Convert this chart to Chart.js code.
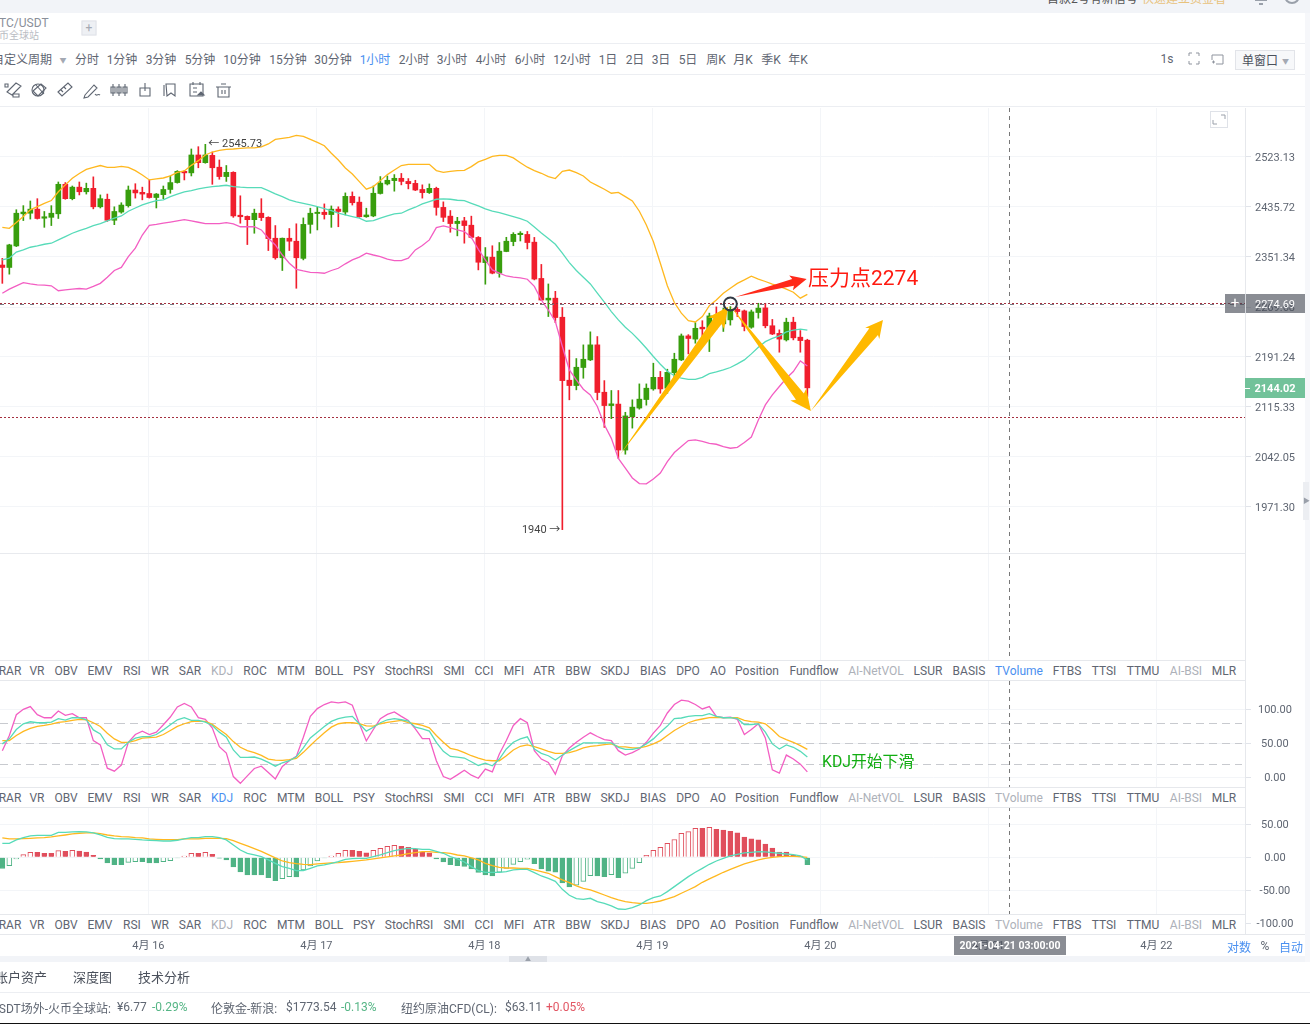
<!DOCTYPE html>
<html>
<head>
<meta charset="utf-8">
<title>BTC/USDT</title>
<script src="https://cdn.jsdelivr.net/npm/chart.js@4/dist/chart.umd.min.js"></script>
<style>
  html, body { margin: 0; padding: 0; background: #f6f7fa; overflow: hidden; }
  body { width: 1310px; height: 1024px; position: relative; font-family: Roboto, "Noto Sans CJK SC", sans-serif; color: #5f6672; }
  canvas { position: absolute; left: 0; }
  .abs { position: absolute; white-space: nowrap; }
  .c { transform: translate(-50%, -50%); }
  .l { transform: translateY(-50%); }
  .hline { position: absolute; height: 1px; background: #eceef2; }
  .tabrow { position: absolute; left: 0; width: 1245px; height: 19px; background: #fff; border-top: 1px solid #e6e8ec; border-bottom: 1px solid #e6e8ec; font-size: 12px; }
  .tabrow span { position: absolute; top: 10px; transform: translate(-50%, -50%); white-space: nowrap; }
</style>
</head>
<body>
<div class="abs" style="left:0;top:13px;width:1305px;height:943px;background:#fff"></div>
<div class="abs" style="left:0;top:0;width:1310px;height:13px;background:#f2f4f8;overflow:hidden">
  <span class="abs" style="left:1047px;top:-11px;font-size:12px;color:#555">首款2号有新信号</span>
  <span class="abs" style="left:1142px;top:-11px;font-size:12px;color:#e8c27c">快速建立资金看</span>
  <svg class="abs" style="left:1250px;top:-8px" width="60" height="16" fill="none" stroke="#9aa0aa" stroke-width="2"><path d="M5 8h12M8 8c0-6 6-6 6 0M9 12h4"/><circle cx="42" cy="4" r="7"/></svg>
</div>
<span class="abs l" style="left:-1px;top:23px;font-size:12px;color:#8a8f99">TC/USDT</span>
<span class="abs l" style="left:-1px;top:34px;font-size:10px;color:#b9bcc3">币全球站</span>
<span class="abs c" style="left:89px;top:28px;width:13px;height:13px;background:#eef0f4;border:1px solid #dfe2e8;color:#a4a9b3;font-size:12px;line-height:13px;text-align:center">+</span>
<div class="hline" style="left:0;top:43px;width:1305px"></div>
<div class="hline" style="left:0;top:74px;width:1305px"></div>
<div class="hline" style="left:0;top:106px;width:1305px"></div>
<div id="periods"></div>
<svg class="abs" style="left:0;top:80px" width="240" height="20" fill="none" stroke="#5f6672" stroke-width="1.1">
  <path d="M5 4h3v3H5zM16 3l5 3-9 9-5-3zM13 14h6v3h-6z"/>
  <path d="M33 11l8-7 5 4-8 8zM36 5l8 9"/><circle cx="38" cy="10" r="6"/>
  <path d="M58 12l10-9 4 4-10 9zM61 10l2 2M64 7l2 2"/>
  <path d="M85 15l9-10 3 3-9 9-4 1zM95 14c2 3 3-1 5 1"/>
  <path d="M113 4v12M119 4v12M125 4v12M111 7h4v6h-4zM117 7h4v6h-4zM123 7h4v6h-4z"/>
  <path d="M140 8h10v8h-10zM145 3v8"/>
  <path d="M166 4h9v12l-4-3-4 3zM164 5v11"/>
  <path d="M190 4h13v12h-13zM193 8h4M193 12h4M193 2v3M200 2v3"/><path d="M198 15l3-3 3 3z" fill="#5f6672"/>
  <path d="M218 7h11v10h-11zM216 7h15M221 4h5M222 10v4M225 10v4"/>
</svg>
<span class="abs c" style="left:1167px;top:59px;font-size:12px">1s</span>
<svg class="abs" style="left:1186px;top:52px" width="40" height="14" fill="none" stroke="#8f949e"><path d="M3 4V1h3M10 1h3v3M13 9v3h-3M6 12H3V9"/><path d="M26 3h11v9h-7M26 3v5M26 10h3M27.500 8.500v3"/></svg>
<div class="abs" style="left:1235px;top:50px;width:58px;height:18px;background:#f7f8fa;border:1px solid #e2e4e9;font-size:12px;line-height:21px;color:#4b515c;text-indent:6px">单窗口<span style="font-size:7px;color:#a4a9b3;margin-left:4px;vertical-align:1px">▼</span></div>
<canvas id="mainChart" width="1305" height="552" style="top:108px"></canvas>
<div class="hline" style="left:0;top:553px;width:1245px;background:#e8eaee"></div>
<canvas id="kdjChart" width="1305" height="107" style="top:681px"></canvas>
<canvas id="macdChart" width="1305" height="149" style="top:807px"></canvas>
<div id="tab1" class="tabrow" style="top:660px"></div>
<div id="tab2" class="tabrow" style="top:787px"></div>
<div id="tab3" class="tabrow" style="top:914px"></div>
<div class="abs" style="left:1245px;top:108px;width:1px;height:826px;background:#e6e8ec"></div>
<div class="abs" style="left:0;top:934px;width:1305px;height:1px;background:#e6e8ec"></div>
<svg class="abs" style="left:1210px;top:111px" width="18" height="17" fill="none" stroke="#9aa0aa"><rect x=".5" y=".5" width="17" height="16" stroke="#dfe2e8"/><path d="M11 4h4v4M3 9v4h4"/></svg>
<div class="abs" style="left:1225px;top:294px;width:80px;height:19px;background:rgba(70,75,85,.63)">
  <span class="abs c" style="left:10px;top:9px;color:#fff;font-size:15px">+</span>
  <span class="abs" style="left:20px;top:0;width:1px;height:19px;background:#d5d7dc"></span>
  <span class="abs c" style="left:50px;top:10px;color:#fff;font-size:11px">2274.69</span>
</div>
<div class="abs" style="left:1245px;top:378px;width:60px;height:20px;background:#72c29a">
  <span class="abs" style="left:0;top:10px;width:5px;height:1px;background:#fff"></span>
  <span class="abs c" style="left:30px;top:10px;color:#fff;font-size:11px;font-weight:700">2144.02</span>
</div>
<div class="abs" style="left:1303px;top:482px;width:6px;height:38px;background:#eceef2;color:#9aa0aa;font-size:7px;line-height:38px">▶</div>
<span class="abs l" style="left:808px;top:276px;font-size:21px;color:#ff1a10">压力点2274</span>
<span class="abs l" style="left:822px;top:760px;font-size:15.800px;color:#12ad12">KDJ开始下滑</span>
<div class="abs" style="left:954px;top:936px;width:112px;height:19px;background:rgba(70,75,85,.63);color:#fff;font-size:10.500px;font-weight:700;line-height:19px;text-align:center">2021-04-21 03:00:00</div>
<span class="abs c" style="left:1239px;top:946px;font-size:12px;color:#4a90f0">对数</span>
<span class="abs c" style="left:1265px;top:946px;font-size:12px">%</span>
<span class="abs c" style="left:1291px;top:946px;font-size:12px;color:#4a90f0">自动</span>
<div class="abs" style="left:0;top:956px;width:1305px;height:6px;background:#f2f4f8"></div>
<div class="abs" style="left:509px;top:956px;width:38px;height:6px;background:#dfe2e8;color:#9aa0aa;font-size:6px;line-height:6px;text-align:center">▲</div>
<div class="abs" style="left:0;top:962px;width:1310px;height:61px;background:#fff"></div>
<span class="abs l" style="left:-5px;top:976px;font-size:13px;color:#4b515c">账户资产</span>
<span class="abs l" style="left:73px;top:976px;font-size:13px;color:#4b515c">深度图</span>
<span class="abs l" style="left:138px;top:976px;font-size:13px;color:#4b515c">技术分析</span>
<div class="hline" style="left:0;top:992px;width:1310px"></div>
<span class="abs l" style="left:-9px;top:1007px;font-size:12px">USDT场外-火币全球站:</span>
<span class="abs l" style="left:117px;top:1007px;font-size:12px">¥6.77</span>
<span class="abs l" style="left:152px;top:1007px;font-size:12px;color:#55b585">-0.29%</span>
<span class="abs l" style="left:211px;top:1007px;font-size:12px">伦敦金-新浪:</span>
<span class="abs l" style="left:286px;top:1007px;font-size:12px">$1773.54</span>
<span class="abs l" style="left:341px;top:1007px;font-size:12px;color:#55b585">-0.13%</span>
<span class="abs l" style="left:401px;top:1007px;font-size:12px">纽约原油CFD(CL):</span>
<span class="abs l" style="left:505px;top:1007px;font-size:12px">$63.11</span>
<span class="abs l" style="left:546px;top:1007px;font-size:12px;color:#e25563">+0.05%</span>
<div class="abs" style="left:0;top:1023px;width:1310px;height:1px;background:#111"></div>

<script>
// candles, one per hour
const candleOpen = [2338,2334,2369.7,2424,2425,2432,2416.5,2418,2424,2475,
  2450,2470,2462,2468,2436,2449,2413,2427,2438,2465,
  2461,2459,2452,2457,2466,2478,2497.7,2495,2526.7,2513,
  2526,2505,2488.5,2496,2421.6,2419.6,2414,2425,2418,2382.6,
  2350,2382.6,2377.6,2349,2406,2424.5,2426.7,2422.7,2432,2427,
  2454,2444,2419,2420.4,2459,2475.6,2481.4,2485.5,2480,2476.6,
  2466,2460.5,2468,2435,2420,2407.4,2412,2404.6,2384,2342,
  2351,2324.6,2360.4,2377,2388.6,2389,2376,2316,2281,2284,
  2253.5,2155.6,2147.5,2175,2186.7,2210,2137.4,2117.4,2119.6,2052,
  2100.6,2113.7,2126.4,2142.4,2160,2143.5,2167,2186.7,2224,2219,
  2237.7,2235.5,2256,2243,2249.3,2266,2263.6,2237.7,2261,2268.4,
  2240,2228,2217.8,2245.6,2222,2217.3];
const candleClose = [2334,2371.4,2425,2427,2432,2416,2419,2425,2475,2450,
  2470,2462,2468,2436,2450,2413,2428,2439,2465,2460,
  2458,2452,2458,2466,2478,2497.7,2495,2526.7,2513,2526.7,
  2504,2488.5,2496,2420.4,2419,2414,2425,2417.5,2382,2350,
  2382.6,2377.6,2350,2406,2425,2426.7,2422.7,2432,2428,2454,
  2443,2419,2422,2459.4,2477,2482,2485.5,2480,2476,2465,
  2460.5,2468,2435,2418,2407.4,2411.3,2404,2384,2342.6,2351.5,
  2324.6,2361,2377.6,2389.2,2391,2375.4,2315,2281,2284,2253,
  2155,2147.5,2175.4,2187.7,2210,2137,2117.4,2120,2052,2102,
  2115,2127,2143.5,2160,2142.4,2167.6,2187.7,2224,2220,2236,
  2235,2255.6,2248,2260,2266,2262.5,2238.8,2262,2268,2240,
  2227,2219,2245.6,2221,2216.7,2144.02];
const candleHigh = [2349,2372.5,2431,2438,2446,2450,2428,2438,2479,2478,
  2472,2479,2477,2488,2456.5,2458,2436,2443,2472,2476,
  2470,2482.6,2459,2472,2489.6,2499,2499,2537.4,2541.5,2545.73,
  2532,2517.8,2508,2497,2455,2420.4,2432,2450,2419,2404,
  2383,2399,2407,2417,2433.6,2435.4,2441,2437.5,2436,2460,
  2461.7,2453,2433.6,2472,2488.5,2489.6,2492,2494,2485,2482,
  2474,2475.6,2470,2444.5,2429.6,2418,2418,2420,2385.4,2367,
  2370,2375.4,2384.2,2392,2393.7,2394,2384,2339,2307,2295,
  2269,2202,2188.8,2210,2230.4,2223,2155,2140,2140,2107.4,
  2126,2150,2150,2181.6,2169,2172.4,2197,2227,2226,2245,
  2248,2260,2270,2268,2270.5,2269,2265,2265,2275.8,2275.8,
  2250,2233.5,2252,2253.5,2232.4,2218.8];
const candleLow = [2308,2323,2368.6,2412.5,2415,2415,2401,2404,2416,2449,
  2448,2456.5,2458,2432.5,2434,2411,2405.5,2425,2435.5,2451,
  2448,2451,2434,2450,2459.4,2477,2482.6,2489.6,2504,2512,
  2475,2483.8,2480,2418,2408,2372,2391,2412.5,2362,2347.6,
  2329,2362,2300,2346.5,2391,2396.6,2415,2401,2402,2422,
  2439,2418,2418,2419,2458,2473.8,2463,2474,2467,2464,
  2451,2459,2421.6,2410.8,2392.7,2386.6,2374.3,2383,2330,2306.6,
  2323.5,2318,2360,2370,2378,2364.7,2313.6,2280,2254.6,2245,
  1940,2126,2141,2158.6,2185.6,2126,2085,2098,2040,2046,
  2084,2112,2118,2140.4,2135.9,2135.9,2158.6,2185.6,2196,2212.6,
  2212.6,2199.6,2234.5,2231,2241,2254.6,2231.9,2236,2252,2236.7,
  2226,2198.6,2216,2217.8,2198.6,2131];

// bollinger bands
const bollUpper = [2401,2399.4,2409,2419.3,2430.7,2436.4,2442,2446.8,2462,2474,
  2485.5,2494,2501,2504.8,2508,2504.8,2504.8,2506.6,2504.8,2499,
  2491.3,2482.6,2484.4,2486,2489.6,2496,2498.4,2508.3,2516.6,2526.7,
  2532,2535,2536.8,2537.4,2538.6,2539.2,2539.2,2541,2546.4,2554.7,
  2556.5,2558.3,2562,2560,2554.7,2549.3,2543.3,2529.7,2517.8,2503.6,
  2493,2479.7,2466.4,2471,2481.4,2492,2500,2508,2510,2510,
  2510,2510,2499,2496,2497.8,2499,2499.5,2506,2514.3,2519,
  2524.3,2526,2526,2521.4,2513,2505,2499,2494.3,2488.4,2485,
  2497.8,2500,2495.4,2489.6,2479,2472.7,2466.4,2459.4,2461,2453.6,
  2446,2428.4,2405,2377,2341,2304,2277,2260,2248,2246,
  2254.6,2272,2281,2292,2300,2308,2313.6,2319.7,2315,2311,
  2306.6,2303,2298.5,2293.6,2284,2290];
const bollMid = [2346.5,2349.3,2359.4,2363.1,2367.5,2369.7,2372.5,2374.2,2379.8,2385.4,
  2391,2395.5,2399.4,2404,2407.4,2412,2416.5,2420.4,2428.4,2434,
  2439.3,2443.3,2446.8,2447.9,2453.7,2457.7,2461.7,2464,2467,2469.3,
  2471,2472,2473.3,2471,2470,2469.3,2469.3,2469.3,2464,2458.3,
  2453.7,2447.9,2444.4,2442,2439.3,2436.4,2433,2429.6,2425,2422,
  2419.3,2416.5,2411.3,2412.4,2416.5,2420.4,2424,2425,2430.7,2435.3,
  2441,2445,2449,2449.6,2449,2447.3,2446.7,2442,2437.6,2432.4,
  2428.4,2426,2422.7,2419.3,2415.9,2411.3,2401.7,2391.6,2382,2372.5,
  2357.7,2342,2329,2318,2307,2292,2277.5,2262.5,2249.3,2237.7,
  2228,2216.8,2204.8,2192,2180,2169.3,2162.4,2158.6,2157,2157,
  2160,2165.7,2168.2,2171.3,2175,2180.5,2186.7,2196,2206.4,2215,
  2220,2224,2230.4,2233,2234.6,2233];
const bollLower = [2292,2298.5,2304,2309,2307,2305.5,2305,2304,2296,2297.4,
  2298.5,2299.6,2298.5,2303,2308,2318,2329,2334,2352,2366,
  2388,2404.5,2406,2408,2410,2412,2414,2412,2409.6,2407.4,
  2407.4,2407.4,2409,2406.8,2402,2402,2402,2396.6,2382.6,2371.4,
  2354.6,2341,2331,2328.3,2326,2325.6,2324.5,2329,2332.7,2340,
  2346.5,2351,2357.8,2354.6,2352,2347.6,2345.4,2345.4,2349.3,2363.1,
  2370.3,2379.8,2400.5,2403.4,2400.5,2396.6,2393.8,2384,2364,2346.5,
  2330,2324.6,2320,2318,2317,2314.7,2303,2281,2265,2246.7,
  2207.4,2171.3,2156,2142,2133.4,2116,2088.8,2069,2040,2026,
  2012,2004,2003.6,2010.6,2019,2035.4,2048.4,2057,2065.7,2066.7,
  2064.7,2061.8,2060.4,2057,2054.6,2056,2063,2071,2096,2118.4,
  2133.4,2146,2158.6,2168.8,2185,2177.3];

// KDJ pane
const kdjK = [49.3,56.7,70.6,79,82,80.6,80.6,81.6,86.6,84.6,
  88,88,85,70,64,48,41.8,41.8,51.7,57.7,
  60.2,60.2,63.2,70,77.6,85,88,84,84,81.6,
  76.6,66.7,59.2,40.3,29.4,29.4,29.9,26.9,21.9,16.4,
  21.4,24.4,30.3,43.3,58.2,66.7,75,82.6,86.6,89,
  90,79,68.2,74,80.6,85,86.6,85,83,74,
  71.6,68.2,51.7,38.3,30.8,29.9,28.4,22.9,17.4,20.9,
  16.9,26.9,41.8,51.7,56.7,59.7,41.8,35.3,31.8,25.4,
  32.8,39.3,45.3,50.7,50.7,50.7,50.7,50.7,44.3,41.3,
  41.3,43.3,49.3,56.7,66.7,75.6,86.6,87.6,90,91,
  91,94,90,88,88,86.6,78,78,79,66.7,
  49.3,41.8,47.8,44.3,38.3,29.9];
const kdjD = [54.2,54.2,61.7,67.7,72.1,75.1,76.6,78.6,81.1,82.1,
  84,85.6,85,80.6,75.1,65.2,56.7,51.7,51.7,54.2,
  57.7,58.7,59.2,63.2,69.2,75.1,79.1,82.1,83.1,82.6,
  78.1,70.6,63.2,52.7,44.3,39.3,36.3,32.3,26.9,25.4,
  24.9,25.9,27.9,36.8,46.8,56.7,65.7,74.1,79.1,80.6,
  80.6,79.1,76.1,75.6,79.1,81.1,82.6,84.1,80.6,79.1,
  76.6,73.1,61.7,51.7,42.8,40.3,36.3,31.8,28.4,25.4,
  24.4,24.4,31.8,40.3,45.8,47.8,45.3,41.8,38.3,35.3,
  35.3,36.3,39.3,43.3,45.8,46.8,48.3,49.3,45.3,44.8,
  43.3,43.3,45.8,49.3,54.2,61.7,69.2,75.1,80.6,84.1,
  86.1,88.1,88.6,88.1,88.1,88.1,84.1,82.1,81.6,79.1,
  70.1,60.2,55.7,51.7,46.8,41.3];
const kdjJ = [39.3,61.7,92.5,100.5,104.5,92.5,88,88,98,91.5,
  94,88,88,54.2,47.8,13.4,9,18,51.7,63.2,
  68.2,63.2,66.7,77.6,89,104,109,104,88,85.6,
  72.6,45.3,35.8,1,-9,2,13,16.4,7,-2.5,
  16,24.4,30.8,59.2,90,101.5,107.5,111.4,110,111.4,
  106.5,79,53.7,70.6,86.6,93,96.5,90,84,71.6,
  57.2,57.2,24.4,1,-3,3.5,10.4,3,-1.5,12,
  8,34.3,54.2,76.6,86.6,80.6,39.3,26.9,21.9,4.5,
  31.8,43.3,51.7,59.2,65.7,60.2,55.7,54.2,39.3,32.8,
  36.3,41.8,51.7,65.2,76.6,95,107.5,114,112.4,107.5,
  101,104.5,90,88,89,85.6,63.2,70.6,79,58.2,
  11,6,32.8,26.9,19.4,8];

// MACD pane
const macdHist = [-17,-12.6,-2.5,4,7.5,7.5,6,6,10,9,
  10.6,9.6,8,3,-2.5,-8.6,-11,-11,-7.6,-6.6,
  -6.6,-8.6,-8.6,-6.6,-5,-1,2,6,6,7.6,
  4.5,-1.5,-4,-14.6,-22,-26.8,-26.8,-26.8,-30.8,-35.4,
  -32.3,-29.3,-29.8,-19.2,-13,-5.6,-1,2,6,10.6,
  10.6,9,6.6,10.6,13.6,16.7,18,16.7,15,12.6,
  7.6,6.6,-2.5,-7,-11,-12.6,-14,-17.7,-23,-26.8,
  -28.3,-22.7,-17,-10.6,-6.6,-3,-9.6,-17.7,-21,-22.7,
  -39,-45,-42.4,-36.4,-27.8,-28.3,-29.3,-26.3,-30.8,-24.2,
  -16.7,-8,3,10.6,15,21,27,36.4,39,44,
  44,45.5,42.4,41.4,39.4,36.9,30.8,27.8,26.3,20.2,
  14,8,8,3,2,-11];
const macdDif = [21.2,21.2,26.3,29.8,32.3,33.3,33.3,33.3,37.9,37.9,
  38.4,38.9,38.4,36.9,33.8,30.3,28.3,27.8,27.8,27.3,
  26.3,25.8,25.3,24.7,24.7,25.8,27.8,29.8,29.8,31.3,
  31.3,29.8,26.3,18.7,11.1,6.1,3.5,1,-4,-9.1,
  -14.1,-16.7,-20.2,-20.2,-16.7,-13.1,-11.6,-9.1,-6.6,-3,
  -2,-1.5,-1.5,1,3.5,7.1,10.1,12.1,13.6,13.1,
  12.1,12.1,9.1,6.1,1,-2.5,-7.1,-14.1,-20.2,-22.7,
  -22.7,-22.7,-21.7,-19.2,-18.2,-18.2,-23.2,-28.3,-31.8,-36.4,
  -48.5,-57.6,-62.6,-63.6,-62.1,-67.2,-69.7,-73.7,-78.3,-78.8,
  -76.3,-72.2,-65.7,-61.1,-58.6,-52,-44.4,-36.9,-29.3,-22.7,
  -16.7,-10.6,-5.6,-1.5,2,4.5,6.6,7.6,8.6,8.1,
  7.1,6.1,5,4,2,-4];
const macdDea = [29.3,27.8,27.8,28.3,28.8,29.3,29.8,30.8,32.3,33.8,
  35.4,36.4,36.9,36.9,35.9,33.8,32.3,31.3,30.8,29.8,
  29.3,27.8,27.3,26.8,26.8,26.8,27.8,27.8,27.8,28.8,
  28.8,28.8,28.3,25.3,21.2,17.2,13.1,9.1,4,-1,
  -5.6,-8.1,-9.6,-10.6,-11.1,-10.1,-9.1,-8.6,-8.1,-7.1,
  -6.1,-5.1,-4,-2.5,-1,0.5,2,3.5,5.6,7.1,
  8.6,8.6,7.6,7.1,6.1,3.5,2,-1,-4,-9.1,
  -12.6,-15.2,-16.2,-16.2,-16.7,-16.7,-19.2,-21.7,-24.2,-29.3,
  -34.3,-38.4,-43.4,-47,-49.5,-53,-57.1,-61.1,-64.6,-67.2,
  -68.7,-69.7,-69.7,-68.2,-66.2,-63.1,-59.6,-54.5,-49.5,-44.4,
  -37.9,-32.8,-27.8,-22.7,-18.2,-14.1,-10.1,-7.1,-4,-1.5,
  0,1,1.5,1.5,1,0];

// axes
const priceTicks = [1971.30, 2042.05, 2115.33, 2191.24, 2269.68, 2351.34, 2435.72, 2523.13];
const kdjTicks = [0, 50, 100];
const kdjBands = [20, 50, 80];
const macdTicks = [-100, -50, 0, 50];
const dayTicks = [20.86, 44.86, 68.86, 92.86, 116.86, 140.86, 164.86];
const dayLabels = ['4月 16', '4月 17', '4月 18', '4月 19', '4月 20', '4月 21', '4月 22'];
const levelPrices = [2274.69, 2099];
const crossIndex = 143.88;

// tabs and period bar
const indicatorTabs = ['RAR','VR','OBV','EMV','RSI','WR','SAR','KDJ','ROC','MTM','BOLL','PSY','StochRSI','SMI','CCI','MFI','ATR','BBW','SKDJ','BIAS','DPO','AO','Position','Fundflow','AI-NetVOL','LSUR','BASIS','TVolume','FTBS','TTSI','TTMU','AI-BSI','MLR'];
const indicatorTabX = [10,37,66,100,132,160,190,222,255,291,329,364,409,454,484,514,544,578,615,653,688,718,757,814,876,928,969,1019,1067,1104,1143,1186,1224];
const periodLabels = ['分时','1分钟','3分钟','5分钟','10分钟','15分钟','30分钟','1小时','2小时','3小时','4小时','6小时','12小时','1日','2日','3日','5日','周K','月K','季K','年K'];
const periodX = [87,122,161,200,242,288,333,375,414,452,491,530,572,608,635,661,688,716,743,771,798];

// annotations on the price pane, in candle index and price
const drawnArrows = [
  { from: [88.2, 2045], to: [103.7, 2270.4], color: '#ffb900', neck: 5, wing: 10, head: 18 },
  { from: [104, 2272], to: [115.5, 2109.4], color: '#ffb900', neck: 5, wing: 10, head: 18 },
  { from: [115.5, 2109.4], to: [125.8, 2249.3], color: '#ffb900', neck: 5.500, wing: 9, head: 15 },
  { from: [104.7, 2286], to: [114.9, 2315.2], color: '#ff2a1a', neck: 3.5, wing: 7.5, head: 14 }
];
const markerCircle = [104, 2274.69];

const RED = '#f01e2d', GREEN = '#389e0d', ORANGE = '#ffb81f', TEAL = '#57dbb9', PINK = '#f35ec3';
const GRID = '#f3f5f8';
const FONT = 'Roboto, "Noto Sans CJK SC", sans-serif';

const pts = (arr) => arr.map((y, x) => ({ x, y }));
const candleColors = candleOpen.map((o, i) => candleClose[i] < o ? RED : GREEN);

function lineSet(values, color) {
  return { type: 'line', data: pts(values), borderColor: color, borderWidth: 1.3, pointRadius: 0, order: 0 };
}

function xAxis(showLabels) {
  return {
    type: 'linear', min: -0.333, max: 177.52, offset: false,
    grid: { color: GRID, offset: false, drawTicks: false },
    border: { display: false },
    afterBuildTicks: (s) => { s.ticks = dayTicks.map((value) => ({ value })); },
    afterFit: (s) => { s.height = showLabels ? 22 : 0; s.paddingLeft = 0; s.paddingRight = 0; },
    ticks: showLabels
      ? { autoSkip: false, maxRotation: 0, padding: 6, color: '#5f6672', font: { size: 11, family: FONT },
          callback: (v) => dayLabels[dayTicks.indexOf(v)] }
      : { display: false }
  };
}

function yAxis(opts, ticks, padding) {
  return Object.assign({
    position: 'right',
    grid: { color: GRID, tickColor: '#e1e4ea', tickLength: 6 },
    border: { display: false },
    afterBuildTicks: (s) => { s.ticks = ticks.map((value) => ({ value })); },
    // the panes butt against each other, no room for half labels
    afterFit: (s) => { s.width = 60; s.paddingTop = 0; s.paddingBottom = 0; },
    ticks: { autoSkip: false, crossAlign: 'center', padding, labelOffset: 1, color: '#5f6672', font: { size: 11, family: FONT },
      callback: (v) => v.toFixed(2) }
  }, opts);
}

const baseOptions = {
  responsive: false, animation: false, events: [],
  layout: { padding: 0 },
  plugins: { legend: { display: false }, tooltip: { enabled: false } }
};

function crossLine(chart) {
  const { ctx, chartArea, scales } = chart;
  const x = scales.x.getPixelForValue(crossIndex);
  ctx.save();
  ctx.strokeStyle = '#777';
  ctx.setLineDash([4, 4]);
  ctx.beginPath();
  ctx.moveTo(x, chartArea.top);
  ctx.lineTo(x, chartArea.bottom);
  ctx.stroke();
  ctx.restore();
}

function drawArrow(ctx, x0, y0, x1, y1, a) {
  const len = Math.hypot(x1 - x0, y1 - y0);
  const ux = (x1 - x0) / len, uy = (y1 - y0) / len;
  const nx = -uy, ny = ux;
  const bx = x1 - ux * a.head, by = y1 - uy * a.head;
  const wx = x1 - ux * a.head * 1.15, wy = y1 - uy * a.head * 1.15;
  ctx.fillStyle = a.color;
  ctx.beginPath();
  ctx.moveTo(x0, y0);
  ctx.lineTo(bx + nx * a.neck, by + ny * a.neck);
  ctx.lineTo(wx + nx * a.wing, wy + ny * a.wing);
  ctx.lineTo(x1, y1);
  ctx.lineTo(wx - nx * a.wing, wy - ny * a.wing);
  ctx.lineTo(bx - nx * a.neck, by - ny * a.neck);
  ctx.closePath();
  ctx.fill();
}

function dashed(ctx, chartArea, py, color, dash) {
  ctx.beginPath();
  ctx.moveTo(chartArea.left, py);
  ctx.lineTo(chartArea.right, py);
  ctx.strokeStyle = color;
  ctx.setLineDash(dash);
  ctx.stroke();
}

const mainOverlay = {
  id: 'mainOverlay',
  afterDatasetsDraw(chart) {
    const { ctx, chartArea, scales: { x, y } } = chart;
    crossLine(chart);
    ctx.save();
    levelPrices.forEach((p, n) => {
      const py = Math.round(y.getPixelForValue(p)) - 0.5;
      if (n === 0) dashed(ctx, chartArea, py + 1, '#777a84', [4, 6]);
      dashed(ctx, chartArea, py, '#a5303f', [2, 2]);
    });
    ctx.setLineDash([]);
    drawnArrows.forEach((a) => {
      drawArrow(ctx, x.getPixelForValue(a.from[0]), y.getPixelForValue(a.from[1]),
        x.getPixelForValue(a.to[0]), y.getPixelForValue(a.to[1]), a);
    });
    ctx.strokeStyle = '#333a45';
    ctx.lineWidth = 2;
    ctx.beginPath();
    ctx.arc(x.getPixelForValue(markerCircle[0]), y.getPixelForValue(markerCircle[1]), 6.5, 0, Math.PI * 2);
    ctx.stroke();

    // high and low of the visible range
    const hi = candleHigh.indexOf(Math.max(...candleHigh));
    const lo = candleLow.indexOf(Math.min(...candleLow));
    ctx.fillStyle = '#444';
    ctx.font = '11px ' + FONT;
    ctx.textBaseline = 'middle';
    ctx.textAlign = 'left';
    ctx.fillText('← ' + candleHigh[hi].toFixed(2), x.getPixelForValue(hi) + 3, y.getPixelForValue(candleHigh[hi]));
    ctx.textAlign = 'right';
    ctx.fillText(candleLow[lo] + ' →', x.getPixelForValue(lo) - 2, y.getPixelForValue(candleLow[lo]) + 1);
    ctx.restore();
  }
};

new Chart(document.getElementById('mainChart'), {
  type: 'bar',
  data: {
    datasets: [
      lineSet(bollUpper, ORANGE),
      lineSet(bollMid, TEAL),
      lineSet(bollLower, PINK),
      {
        data: candleOpen.map((o, i) => ({ x: i, y: [o, candleClose[i]] })),
        backgroundColor: candleColors, barThickness: 5, minBarLength: 1, grouped: false, order: 1
      },
      {
        data: candleLow.map((l, i) => ({ x: i, y: [l, candleHigh[i]] })),
        backgroundColor: candleColors, barThickness: 1, grouped: false, order: 2
      }
    ]
  },
  options: Object.assign({}, baseOptions, {
    scales: {
      x: xAxis(false),
      y: yAxis({ type: 'logarithmic', beginAtZero: false, min: 1769.6, max: 2611.8 }, priceTicks, 4)
    }
  }),
  plugins: [mainOverlay]
});

new Chart(document.getElementById('kdjChart'), {
  type: 'line',
  data: { datasets: [lineSet(kdjK, TEAL), lineSet(kdjD, ORANGE), lineSet(kdjJ, PINK)] },
  options: Object.assign({}, baseOptions, {
    scales: { x: xAxis(false), y: yAxis({ type: 'linear', min: -15.9, max: 142.3 }, kdjTicks, 7) }
  }),
  plugins: [{
    id: 'kdjBands',
    beforeDatasetsDraw(chart) {
      const { ctx, chartArea, scales: { y } } = chart;
      ctx.save();
      ctx.strokeStyle = '#c8cacf';
      ctx.setLineDash([8, 5]);
      kdjBands.forEach((v) => {
        const py = Math.round(y.getPixelForValue(v)) + 0.5;
        ctx.beginPath();
        ctx.moveTo(chartArea.left, py);
        ctx.lineTo(chartArea.right - 3, py);
        ctx.stroke();
      });
      ctx.restore();
    },
    afterDatasetsDraw: crossLine
  }]
});

new Chart(document.getElementById('macdChart'), {
  type: 'bar',
  data: {
    datasets: [
      lineSet(macdDif, TEAL),
      lineSet(macdDea, ORANGE),
      {
        data: pts(macdHist),
        // bars that rise from the previous hour are hollow
        backgroundColor: macdHist.map((v, i) => {
          if (i > 0 && v > macdHist[i - 1]) return '#fff';
          return v >= 0 ? '#e04e5c' : '#4fb385';
        }),
        borderColor: macdHist.map((v) => v >= 0 ? '#e04e5c' : '#4fb385'),
        borderWidth: 1, barThickness: 5, order: 1
      }
    ]
  },
  options: Object.assign({}, baseOptions, {
    scales: { x: xAxis(true), y: yAxis({ type: 'linear', min: -116.2, max: 76.2 }, macdTicks, 5.5) }
  }),
  plugins: [{ id: 'macdCross', afterDatasetsDraw: crossLine }]
});

// chrome built from the label lists
function tabRow(id, blue, grey) {
  const row = document.getElementById(id);
  indicatorTabs.forEach((name, i) => {
    const s = document.createElement('span');
    s.textContent = name;
    s.style.left = indicatorTabX[i] + 'px';
    if (blue === name) s.style.color = '#4a90f0';
    else if (grey.includes(name)) s.style.color = '#adb1b9';
    row.appendChild(s);
  });
}
tabRow('tab1', 'TVolume', ['KDJ', 'AI-NetVOL', 'AI-BSI']);
tabRow('tab2', 'KDJ', ['TVolume', 'AI-NetVOL', 'AI-BSI']);
tabRow('tab3', null, ['KDJ', 'TVolume', 'AI-NetVOL', 'AI-BSI']);

const bar = document.getElementById('periods');
bar.innerHTML = '<span class="abs l" style="left:-8px;top:58px;font-size:12px">自定义周期</span>' +
  '<span class="abs c" style="left:63px;top:60px;font-size:7px;color:#a4a9b3">▼</span>';
periodLabels.forEach((name, i) => {
  const s = document.createElement('span');
  s.className = 'abs c';
  s.textContent = name;
  s.style.cssText = 'left:' + periodX[i] + 'px;top:58px;font-size:12px;' + (name === '1小时' ? 'color:#4a90f0' : '');
  bar.appendChild(s);
});
</script>
</body>
</html>
